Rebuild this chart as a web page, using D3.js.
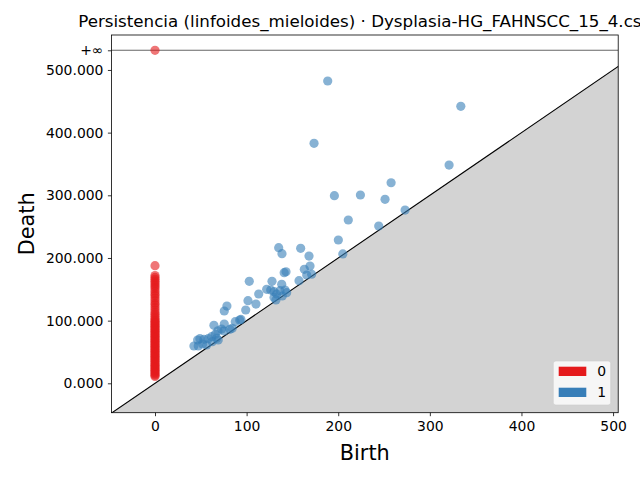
<!DOCTYPE html>
<html>
<head>
<meta charset="utf-8">
<script src="https://cdn.jsdelivr.net/npm/d3@7"></script>
<style>
  body { margin: 0; background: #fff; }
  svg { font-family: "DejaVu Sans", sans-serif; }
  .tick text { font-size: 13.9px; fill: #000; }
</style>
</head>
<body>
<svg width="640" height="480"></svg>
<script>
// H0 points: birth is always 0
const h0Deaths = [11, 13, 15, 17, 19, 21, 23, 25, 27, 29, 31, 33, 35, 37, 39, 41, 43, 45,
  47, 49, 51, 53, 55, 57, 59, 61, 63, 65, 67, 69, 71, 73, 75, 77, 79, 81, 83, 85, 87,
  89, 91, 93, 95, 97, 99, 101, 104, 107, 110, 113, 117, 121, 125, 128, 132, 136, 140,
  143, 147, 151, 154, 157, 160, 163, 166, 169, 172, 187.7];
const h0InfCount = 1;

// H1 points
const h1Births = [188.5, 333.8, 173.6, 321, 257.7, 195.8, 224.2, 251.1, 273, 211, 244.2, 200.1,
  135, 138.6, 159, 168.1, 205, 143, 141, 169.2, 163, 165.6, 171, 157.2, 102.9, 127.7, 138.3,
  121.9, 126.3, 129.9, 132.8, 136.4, 141.9, 143.7, 138.9, 113.2, 132, 129.9, 101.5, 110.2,
  78.5, 75.6, 99, 93.8, 92.4, 87.6, 64.3, 75.6, 72.7, 68.7, 75.3, 81.8, 84.3,
  65.8, 61.8, 58.1, 53.4, 49, 46.5, 42.5, 47.2, 52, 56.4, 62.5, 67.3, 69];
const h1Deaths = [482.4, 442, 383, 348.3, 320, 299.4, 300.5, 293.6, 276.5, 260.6, 251, 228.7,
  216.4, 206.8, 215.4, 203.1, 206.5, 178, 176.5, 187.2, 181.9, 172.8, 174, 163.7, 162.7, 162.7, 158,
  150, 148.9, 146.2, 142.5, 147.8, 148.9, 144.6, 139.3, 142.5, 133, 137, 131.8, 126.5,
  123.3, 115.4, 117, 102, 101, 98.3, 92.5, 94.6, 86.6, 83.9, 83.5, 86.2, 87.8,
  78.2, 74.4, 71.2, 70.2, 71.2, 69.1, 59.5, 59.5, 62.7, 61.1, 66.4, 71.8, 69.1];

const xTicks = [0, 100, 200, 300, 400, 500];
const yTicks = [0, 100, 200, 300, 400, 500];
const infValue = 531.4;
const axisLo = -47.6, axisHi = 505.6, yHi = 555.8;

const groupNames = ['0', '1'];
const groupColors = ['#e41a1c', '#377eb8'];

const svg = d3.select('svg');
const margin = {top: 35, right: 21.8, bottom: 67.3, left: 111.4};
const width = +svg.attr('width');
const height = +svg.attr('height');
const innerWidth = width - margin.left - margin.right;
const innerHeight = height - margin.top - margin.bottom;

const xScale = d3.scaleLinear().domain([axisLo, axisHi]).range([0, innerWidth]);
const yScale = d3.scaleLinear().domain([axisLo + 0.7, yHi]).range([innerHeight, 0]);

const g = svg.append('g')
  .attr('transform', `translate(${margin.left},${margin.top})`);

g.append('clipPath').attr('id', 'plotclip')
  .append('rect').attr('width', innerWidth).attr('height', innerHeight);

const plot = g.append('g').attr('clip-path', 'url(#plotclip)');

// region under the diagonal
const diag = [axisLo - 5, axisHi + 5];
plot.append('path')
  .attr('d', d3.area()
    .x(d => xScale(d))
    .y0(yScale(axisLo - 5))
    .y1(d => yScale(d))(diag))
  .attr('fill', '#d3d3d3');

plot.append('path')
  .attr('d', d3.line().x(d => xScale(d)).y(d => yScale(d))(diag))
  .attr('stroke', '#000').attr('stroke-width', 1.1).attr('fill', 'none');

// infinity line
plot.append('line')
  .attr('x1', 0).attr('x2', innerWidth)
  .attr('y1', yScale(infValue)).attr('y2', yScale(infValue))
  .attr('stroke', '#666').attr('stroke-width', 1.1);

// points
const h0 = h0Deaths.map(d => ({b: 0, d: d}));
for (let i = 0; i < h0InfCount; i++) h0.push({b: 0, d: infValue});
const h1 = h1Births.map((b, i) => ({b: b, d: h1Deaths[i]}));

[h0, h1].forEach((pts, k) => {
  plot.append('g').selectAll('circle').data(pts)
    .enter().append('circle')
      .attr('cx', p => xScale(p.b))
      .attr('cy', p => yScale(p.d))
      .attr('r', 4.6)
      .attr('fill', groupColors[k])
      .attr('fill-opacity', 0.6);
});

// axes
const xAxisG = g.append('g')
  .attr('transform', `translate(0,${innerHeight})`)
  .call(d3.axisBottom(xScale).tickValues(xTicks).tickSize(3.5).tickPadding(4.5));
const yAxisG = g.append('g')
  .call(d3.axisLeft(yScale)
    .tickValues(yTicks.concat([infValue]))
    .tickFormat(v => v === infValue ? '+∞' : d3.format('.3f')(v))
    .tickSize(3.5).tickPadding(4.5));
[xAxisG, yAxisG].forEach(a => {
  a.select('.domain').remove();
  a.selectAll('line').attr('stroke', '#000').attr('stroke-width', 0.8);
  a.selectAll('text').attr('font-family', 'DejaVu Sans');
});

g.append('rect')
  .attr('width', innerWidth).attr('height', innerHeight)
  .attr('fill', 'none').attr('stroke', '#000').attr('stroke-width', 0.8);

// labels
svg.append('text')
  .text('Birth')
  .attr('x', margin.left + innerWidth / 2)
  .attr('y', 460)
  .attr('text-anchor', 'middle')
  .attr('font-size', 20.8);

svg.append('text')
  .text('Death')
  .attr('transform', `translate(34,${margin.top + innerHeight / 2}) rotate(-90)`)
  .attr('text-anchor', 'middle')
  .attr('font-size', 20.8);

svg.append('text')
  .text('Persistencia (linfoides_mieloides) · Dysplasia-HG_FAHNSCC_15_4.csv')
  .attr('x', margin.left + innerWidth / 2)
  .attr('y', 27)
  .attr('text-anchor', 'middle')
  .attr('font-size', 16.7);

// legend
const legend = g.append('g')
  .attr('transform', `translate(${innerWidth - 64.9},${innerHeight - 51.7})`);
legend.append('rect')
  .attr('width', 57.4).attr('height', 44)
  .attr('rx', 2.5)
  .attr('fill', '#fff').attr('fill-opacity', 0.8)
  .attr('stroke', '#ccc').attr('stroke-opacity', 0.8).attr('stroke-width', 0.8);
groupNames.forEach((name, i) => {
  const row = legend.append('g').attr('transform', `translate(5.4,${5.7 + i * 21})`);
  row.append('rect')
    .attr('width', 27.6).attr('height', 9.3)
    .attr('fill', groupColors[i]);
  row.append('text')
    .text(name)
    .attr('x', 38.6).attr('y', 9.5)
    .attr('font-size', 13.9);
});
</script>
</body>
</html>
